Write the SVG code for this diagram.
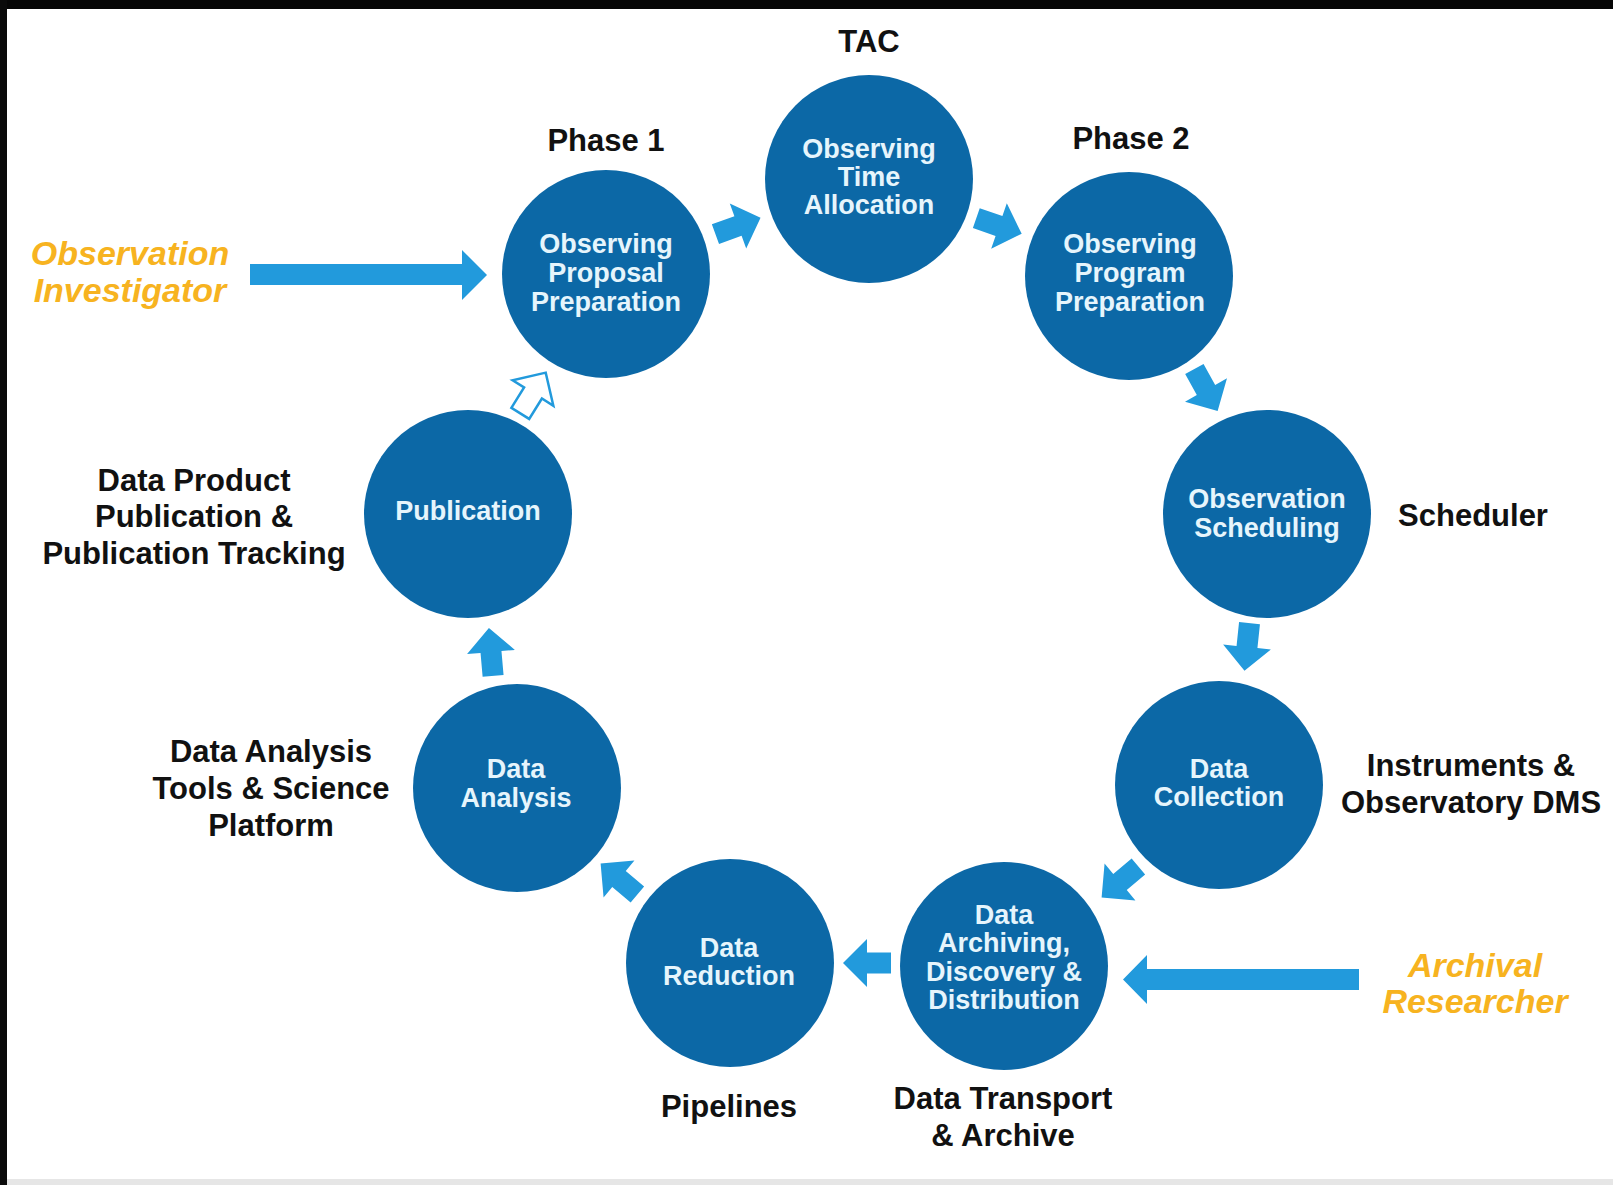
<svg xmlns="http://www.w3.org/2000/svg" xmlns:xlink="http://www.w3.org/1999/xlink" width="1613" height="1185" viewBox="0 0 1613 1185">
<defs>
<style>
.node{fill:#0C68A6;}
.nt{font-family:"Liberation Sans",Arial,sans-serif;font-weight:bold;font-size:27px;fill:#E6F5FC;text-anchor:middle;}
.lb{font-family:"Liberation Sans",Arial,sans-serif;font-weight:bold;font-size:31px;fill:#111111;text-anchor:middle;}
.act{font-family:"Liberation Sans",Arial,sans-serif;font-weight:bold;font-style:italic;font-size:34px;fill:#F7B320;text-anchor:middle;}
.ar{fill:#229ADC;}
.hollow{fill:#ffffff;stroke:#229ADC;stroke-width:2.5;stroke-linejoin:miter;}
</style>
<path id="arrow" d="M-24,-10.5 H0 V-24 L24,0 L0,24 V10.5 H-24 Z"/>
</defs>
<rect x="0" y="0" width="1613" height="1185" fill="#ffffff"/>
<rect x="0" y="0" width="1613" height="9" fill="#050505"/>
<rect x="0" y="0" width="7" height="1185" fill="#0a0a0a"/>
<rect x="7" y="1179" width="1606" height="6" fill="#e6e6e6"/>

<g id="connectors">
<use xlink:href="#arrow" class="ar" transform="translate(738,226) rotate(-20)"/>
<use xlink:href="#arrow" class="ar" transform="translate(999,226) rotate(19)"/>
<use xlink:href="#arrow" class="ar" transform="translate(1206,390) rotate(61)"/>
<use xlink:href="#arrow" class="ar" transform="translate(1247,647) rotate(96)"/>
<use xlink:href="#arrow" class="ar" transform="translate(1120,882) rotate(140)"/>
<use xlink:href="#arrow" class="ar" transform="translate(867,963) rotate(180)"/>
<use xlink:href="#arrow" class="ar" transform="translate(619,879) rotate(-140)"/>
<use xlink:href="#arrow" class="ar" transform="translate(491,652) rotate(-95)"/>
<use xlink:href="#arrow" class="hollow" transform="translate(533,393) rotate(-58)"/>
<path class="ar" d="M250,264 H462 V250 L487,275 L462,300 V285 H250 Z"/>
<path class="ar" d="M1359,969 H1147 V955 L1123,979.5 L1147,1004 V990 H1359 Z"/>
</g>

<g id="node-proposal">
<circle class="node" cx="606" cy="274" r="104"/>
<text class="nt" x="606" y="253">Observing</text>
<text class="nt" x="606" y="282">Proposal</text>
<text class="nt" x="606" y="311">Preparation</text>
</g>
<g id="node-time-allocation">
<circle class="node" cx="869" cy="179" r="104"/>
<text class="nt" x="869" y="158">Observing</text>
<text class="nt" x="869" y="186">Time</text>
<text class="nt" x="869" y="214">Allocation</text>
</g>
<g id="node-program">
<circle class="node" cx="1129" cy="276" r="104"/>
<text class="nt" x="1130" y="253">Observing</text>
<text class="nt" x="1130" y="282">Program</text>
<text class="nt" x="1130" y="311">Preparation</text>
</g>
<g id="node-scheduling">
<circle class="node" cx="1267" cy="514" r="104"/>
<text class="nt" x="1267" y="508">Observation</text>
<text class="nt" x="1267" y="537">Scheduling</text>
</g>
<g id="node-collection">
<circle class="node" cx="1219" cy="785" r="104"/>
<text class="nt" x="1219" y="778">Data</text>
<text class="nt" x="1219" y="806">Collection</text>
</g>
<g id="node-archiving">
<circle class="node" cx="1004" cy="966" r="104"/>
<text class="nt" x="1004" y="924">Data</text>
<text class="nt" x="1004" y="952">Archiving,</text>
<text class="nt" x="1004" y="981">Discovery &amp;</text>
<text class="nt" x="1004" y="1009">Distribution</text>
</g>
<g id="node-reduction">
<circle class="node" cx="730" cy="963" r="104"/>
<text class="nt" x="729" y="957">Data</text>
<text class="nt" x="729" y="985">Reduction</text>
</g>
<g id="node-analysis">
<circle class="node" cx="517" cy="788" r="104"/>
<text class="nt" x="516" y="778">Data</text>
<text class="nt" x="516" y="807">Analysis</text>
</g>
<g id="node-publication">
<circle class="node" cx="468" cy="514" r="104"/>
<text class="nt" x="468" y="520">Publication</text>
</g>

<g id="labels">
<text class="lb" x="869" y="52">TAC</text>
<text class="lb" x="606" y="151">Phase 1</text>
<text class="lb" x="1131" y="149">Phase 2</text>
<text class="lb" x="1473" y="526">Scheduler</text>
<text class="lb" x="1471" y="776">Instruments &amp;</text>
<text class="lb" x="1471" y="813">Observatory DMS</text>
<text class="lb" x="1003" y="1109">Data Transport</text>
<text class="lb" x="1003" y="1146">&amp; Archive</text>
<text class="lb" x="729" y="1117">Pipelines</text>
<text class="lb" x="271" y="762">Data Analysis</text>
<text class="lb" x="271" y="799">Tools &amp; Science</text>
<text class="lb" x="271" y="836">Platform</text>
<text class="lb" x="194" y="491">Data Product</text>
<text class="lb" x="194" y="527">Publication &amp;</text>
<text class="lb" x="194" y="564">Publication Tracking</text>
</g>
<g id="actors">
<text class="act" x="130" y="265">Observation</text>
<text class="act" x="130" y="302">Investigator</text>
<text class="act" x="1475" y="977">Archival</text>
<text class="act" x="1475" y="1013">Researcher</text>
</g>
</svg>
